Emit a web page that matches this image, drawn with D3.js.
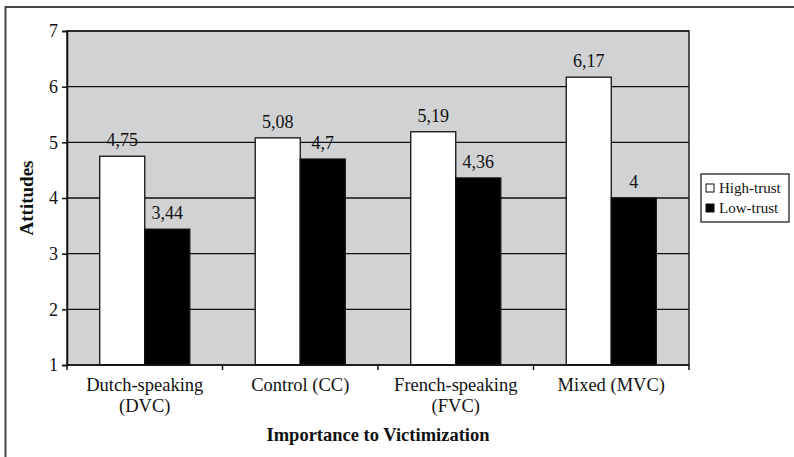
<!DOCTYPE html>
<html>
<head>
<meta charset="utf-8">
<script src="https://cdn.jsdelivr.net/npm/d3@7"></script>
<style>
  html, body { margin: 0; padding: 0; background: #fff; }
  svg { display: block; }
</style>
</head>
<body>
<svg id="chart" width="794" height="457" font-family="Liberation Serif, Times New Roman, serif"></svg>
<script>
// Data
const categories = [["Dutch-speaking", "(DVC)"], ["Control (CC)"], ["French-speaking", "(FVC)"], ["Mixed (MVC)"]];
const seriesNames = ["High-trust", "Low-trust"];
const highTrust = [4.75, 5.08, 5.19, 6.17];
const lowTrust = [3.44, 4.70, 4.36, 4.00];
const yTicks = [1, 2, 3, 4, 5, 6, 7];
const yTitle = "Attitudes";
const xTitle = "Importance to Victimization";

const seriesValues = [highTrust, lowTrust];
const seriesFill = ["#ffffff", "#000000"];
const FONT = "Liberation Serif, Times New Roman, serif";

const svg = d3.select("#chart");
const plot = { left: 67, top: 31, right: 689, bottom: 365 };
const catKeys = categories.map(c => c.join(" "));

const x0 = d3.scaleBand()
  .domain(catKeys)
  .range([plot.left, plot.right])
  .paddingInner(0.421)
  .paddingOuter(0.2105);
const x1 = d3.scaleBand()
  .domain(seriesNames)
  .range([0, x0.bandwidth()]);
const y = d3.scaleLinear().domain([1, 7]).range([plot.bottom, plot.top]);

const fmt = v => String(+v.toFixed(2)).replace(".", ",");

// Outer frame (top and left edges)
svg.append("line").attr("x1", 5.5).attr("x2", 794).attr("y1", 7).attr("y2", 7)
  .attr("stroke", "#444").attr("stroke-width", 2);
svg.append("line").attr("x1", 5.5).attr("x2", 5.5).attr("y1", 6).attr("y2", 457)
  .attr("stroke", "#444").attr("stroke-width", 2);

// Plot background
svg.append("rect")
  .attr("x", plot.left).attr("y", plot.top)
  .attr("width", plot.right - plot.left).attr("height", plot.bottom - plot.top)
  .attr("fill", "#d1d2d4");

// Gridlines
svg.append("g").selectAll("line").data(yTicks.slice(1)).join("line")
  .attr("x1", plot.left).attr("x2", plot.right)
  .attr("y1", d => y(d)).attr("y2", d => y(d))
  .attr("stroke", "#111").attr("stroke-width", 1.3);

// Bars
const groups = svg.append("g").selectAll("g").data(catKeys).join("g")
  .attr("transform", d => `translate(${x0(d)},0)`);
groups.selectAll("rect")
  .data((d, i) => seriesNames.map((s, j) => ({ s, j, v: seriesValues[j][i] })))
  .join("rect")
  .attr("x", d => x1(d.s))
  .attr("y", d => y(d.v))
  .attr("width", x1.bandwidth())
  .attr("height", d => y(1) - y(d.v))
  .attr("fill", d => seriesFill[d.j])
  .attr("stroke", "#111").attr("stroke-width", 1.3);

// Value labels
groups.selectAll("text")
  .data((d, i) => seriesNames.map((s, j) => ({ s, j, v: seriesValues[j][i] })))
  .join("text")
  .attr("x", d => x1(d.s) + x1.bandwidth() / 2)
  .attr("y", d => y(d.v) - 10)
  .attr("text-anchor", "middle")
  .attr("font-family", FONT)
  .attr("font-size", 18)
  .attr("fill", "#111")
  .text(d => fmt(d.v));

// Plot border
svg.append("rect")
  .attr("x", plot.left).attr("y", plot.top)
  .attr("width", plot.right - plot.left).attr("height", plot.bottom - plot.top)
  .attr("fill", "none").attr("stroke", "#222").attr("stroke-width", 1.5);

// Y axis
const yAxis = svg.append("g")
  .attr("transform", `translate(${plot.left},0)`)
  .call(d3.axisLeft(y).tickValues(yTicks).tickSize(5).tickPadding(4).tickFormat(d3.format("d")));
yAxis.attr("font-family", FONT);
yAxis.select(".domain").attr("stroke", "#111").attr("stroke-width", 1.5);
yAxis.selectAll(".tick line").attr("stroke", "#111").attr("stroke-width", 1.5);
yAxis.selectAll(".tick text")
  .attr("font-family", FONT).attr("font-size", 18).attr("fill", "#111");

// X axis: ticks at category boundaries
const step = x0.step();
const boundaries = d3.range(catKeys.length + 1).map(i => plot.left + i * step);
svg.append("g").selectAll("line").data(boundaries).join("line")
  .attr("x1", d => d).attr("x2", d => d)
  .attr("y1", plot.bottom).attr("y2", plot.bottom + 5)
  .attr("stroke", "#111").attr("stroke-width", 1.5);
svg.append("line")
  .attr("x1", plot.left).attr("x2", plot.right)
  .attr("y1", plot.bottom).attr("y2", plot.bottom)
  .attr("stroke", "#111").attr("stroke-width", 1.5);

// Category labels
const catLabels = svg.append("g").selectAll("text").data(categories).join("text")
  .attr("x", (d, i) => x0(catKeys[i]) + x0.bandwidth() / 2)
  .attr("y", 391)
  .attr("text-anchor", "middle")
  .attr("font-family", FONT)
  .attr("font-size", 18.5)
  .attr("fill", "#111");
catLabels.selectAll("tspan").data(d => d).join("tspan")
  .attr("x", function () { return d3.select(this.parentNode).attr("x"); })
  .attr("dy", (d, i) => i === 0 ? 0 : 21)
  .text(d => d);

// Axis titles
svg.append("text")
  .attr("x", (plot.left + plot.right) / 2).attr("y", 441)
  .attr("text-anchor", "middle")
  .attr("font-family", FONT)
  .attr("font-size", 18.5).attr("font-weight", "bold").attr("fill", "#111")
  .text(xTitle);
svg.append("text")
  .attr("transform", `translate(33,${(plot.top + plot.bottom) / 2}) rotate(-90)`)
  .attr("text-anchor", "middle")
  .attr("font-family", FONT)
  .attr("font-size", 19).attr("font-weight", "bold").attr("fill", "#111")
  .text(yTitle);

// Legend
const legend = svg.append("g").attr("transform", "translate(701,174)");
legend.append("rect").attr("x", 0).attr("y", 0).attr("width", 88).attr("height", 48)
  .attr("fill", "#fff").attr("stroke", "#222").attr("stroke-width", 1.3);
const li = legend.selectAll("g").data(seriesNames).join("g")
  .attr("transform", (d, i) => `translate(5,${14 + i * 20})`);
li.append("rect").attr("x", 0).attr("y", -4).attr("width", 8).attr("height", 8)
  .attr("fill", (d, i) => seriesFill[i]).attr("stroke", "#111").attr("stroke-width", 1);
li.append("text").attr("x", 13).attr("y", 5)
  .attr("font-family", FONT)
  .attr("font-size", 15).attr("fill", "#111")
  .text(d => d);
</script>
</body>
</html>
